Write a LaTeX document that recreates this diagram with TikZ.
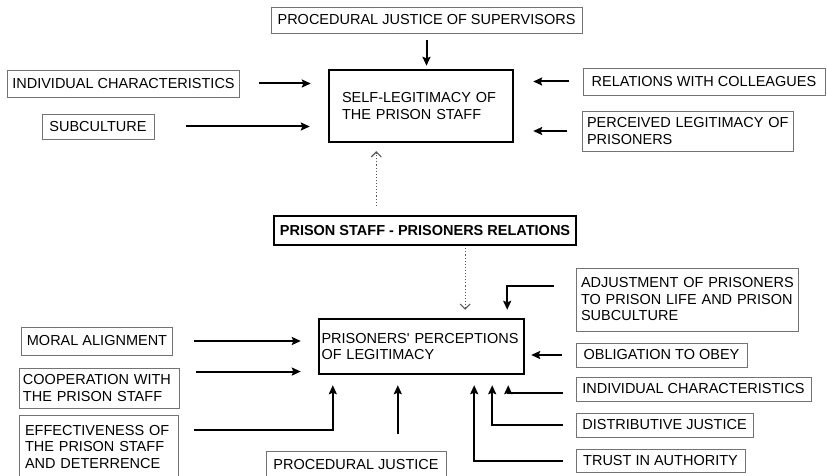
\documentclass[tikz,border=0pt]{standalone}
\usepackage{fontspec}
\setmainfont{Liberation Sans}
\usetikzlibrary{arrows.meta,calc}

\begin{document}
\begin{tikzpicture}[
    x=1pt, y=-1pt,   % coordinate in pixel, y verso il basso
    fattore/.style={draw=black!55, line width=0.9pt, inner xsep=5pt, inner ysep=2pt, font=\fontsize{14.5}{16.5}\selectfont},
    costrutto/.style={draw=black, line width=2.4pt, inner ysep=2pt, font=\fontsize{14.5}{16.5}\selectfont},
    freccia/.style={->, >={Stealth[length=9pt,width=8pt,inset=1.5pt]}, line width=2pt},
    legame/.style={->, >={Straight Barb[length=5pt,width=10pt]}, black!65, dotted, line width=1.1pt}
]

    \useasboundingbox (0,0) rectangle (827,476);

    % =========================================================================
    % 1. IN ALTO: SELF-LEGITIMACY DEL PERSONALE
    % =========================================================================

    \node[costrutto, text width=158pt, inner xsep=13pt, align=left, minimum height=72pt] (self) at (421,106) {SELF-LEGITIMACY OF\\THE PRISON STAFF};

    % Fattori attorno
    \node[fattore, minimum width=311pt, minimum height=26pt] (sup) at (426.5,20) {PROCEDURAL JUSTICE OF SUPERVISORS};
    \node[fattore, minimum width=231pt, minimum height=27pt] (indivA) at (123.5,83.5) {INDIVIDUAL CHARACTERISTICS};
    \node[fattore, minimum width=112pt, minimum height=25pt] (subcult) at (98,126.5) {SUBCULTURE};
    \node[fattore, minimum width=242pt, minimum height=27pt] (coll) at (704,81.5) {RELATIONS WITH COLLEAGUES};
    \node[fattore, text width=201pt, align=left, minimum height=40pt] (perc) at (687.5,131) {\mbox{PERCEIVED LEGITIMACY OF}\\PRISONERS};

    % Frecce verso il riquadro
    \draw[freccia, shorten <=7pt, shorten >=3pt] (sup.south) -- (sup.south |- self.north);
    \draw[freccia, shorten <=19pt, shorten >=17pt] (indivA.east) -- (indivA.east -| self.west);
    \draw[freccia, shorten <=32pt, shorten >=18pt] (subcult.east) -- (subcult.east -| self.west);
    \draw[freccia, shorten <=14pt, shorten >=19pt] (coll.west) -- (coll.west -| self.east);
    \draw[freccia, shorten <=15pt, shorten >=19pt] (perc.west) -- (perc.west -| self.east);

    % =========================================================================
    % 2. CENTRO: RELAZIONI PERSONALE - DETENUTI
    % =========================================================================

    \node[costrutto, font=\fontsize{14.5}{16.5}\selectfont\bfseries, minimum width=302pt, minimum height=29pt] (rel) at (425,230.5) {PRISON STAFF - PRISONERS RELATIONS};

    \node[costrutto, text width=200pt, inner xsep=2.5pt, align=left, minimum height=55pt] (pris) at (421.5,346.5) {\mbox{PRISONERS\textquotesingle{} PERCEPTIONS}\\OF LEGITIMACY};

    % Legami punteggiati
    \coordinate (relA) at ($(rel.north west)!0.34!(rel.north east)$);
    \coordinate (relB) at ($(rel.south west)!0.632!(rel.south east)$);
    \draw[legame, shorten <=9pt, shorten >=8pt] (relA) -- (relA |- self.south);
    \draw[legame, shorten <=2pt, shorten >=8pt] (relB) -- (relB |- pris.north);

    % =========================================================================
    % 3. IN BASSO: PERCEZIONI DEI DETENUTI
    % =========================================================================

    % Fattori a sinistra
    \node[fattore, minimum width=150pt, minimum height=28pt] (moral) at (97,341) {MORAL ALIGNMENT};
    \node[fattore, text width=152pt, inner xsep=4pt, align=left, minimum height=40pt] (coop) at (99,388) {COOPERATION WITH\\THE PRISON STAFF};
    \node[fattore, text width=147pt, inner xsep=6pt, align=left, minimum height=64pt] (effect) at (98.5,447) {\mbox{EFFECTIVENESS OF}\\THE PRISON STAFF\\AND DETERRENCE};
    \node[fattore, minimum width=180pt, minimum height=27pt] (proc) at (356,464.5) {PROCEDURAL JUSTICE};

    % Fattori a destra
    \node[fattore, text width=212pt, align=left, minimum height=63pt] (adj) at (687,299.5) {\mbox{ADJUSTMENT OF PRISONERS}\\\mbox{TO PRISON LIFE AND PRISON}\\SUBCULTURE};
    \node[fattore, minimum width=171pt, minimum height=24pt] (obl) at (661.5,355) {OBLIGATION TO OBEY};
    \node[fattore, minimum width=235pt, minimum height=24pt] (indivB) at (693.5,389) {INDIVIDUAL CHARACTERISTICS};
    \node[fattore, minimum width=177pt, minimum height=24pt] (distr) at (664.5,425) {DISTRIBUTIVE JUSTICE};
    \node[fattore, minimum width=169pt, minimum height=23pt] (trust) at (660.5,460.5) {TRUST IN AUTHORITY};

    % Frecce da sinistra e dal basso
    \coordinate (coopA) at ([yshift=-4pt]coop.north east);
    \coordinate (effA) at ([yshift=-15pt]effect.north east);
    \coordinate (prisP) at ([xshift=80pt]pris.south west);
    \draw[freccia, shorten <=21pt, shorten >=17pt] (moral.east) -- (moral.east -| pris.west);
    \draw[freccia, shorten <=17pt, shorten >=17pt] (coopA) -- (coopA -| pris.west);
    \draw[freccia, shorten <=16pt, shorten >=10pt] (effA) -| ([xshift=15pt]pris.south west);
    \draw[freccia, shorten <=17pt, shorten >=10pt] (prisP |- proc.north) -- (prisP);

    % Frecce da destra
    \coordinate (adjA) at ([yshift=-18pt]adj.north west);
    \coordinate (indA) at ([yshift=-4pt]indivB.west);
    \draw[freccia, shorten <=22pt, shorten >=8pt] (adjA) -| ([xshift=-18pt]pris.north east);
    \draw[freccia, shorten <=14pt, shorten >=6pt] (obl.west) -- (obl.west -| pris.east);
    \draw[freccia, shorten <=13pt, shorten >=10pt] (indA) -| ([xshift=-17pt]pris.south east);
    \draw[freccia, shorten <=13pt, shorten >=10pt] (distr.west) -| ([xshift=-33pt]pris.south east);
    \draw[freccia, shorten <=13pt, shorten >=10pt] (trust.west) -| ([xshift=-51pt]pris.south east);

\end{tikzpicture}
\end{document}
